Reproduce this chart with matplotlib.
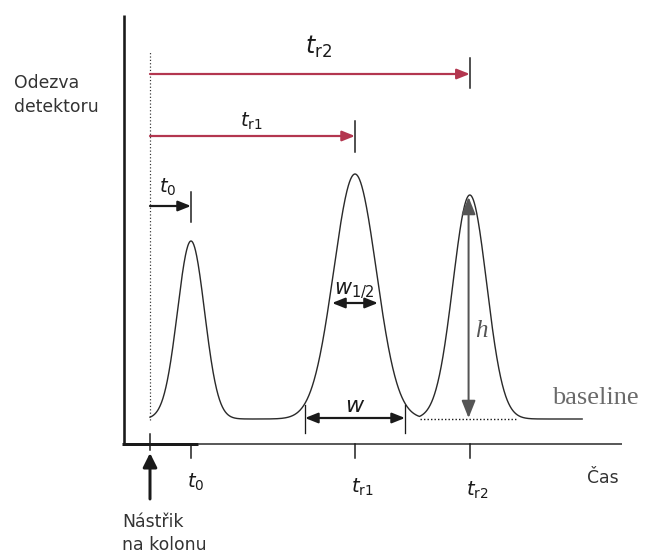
import numpy as np
import matplotlib
matplotlib.use("Agg")
import matplotlib.pyplot as plt

# ---------------- data (schematic chromatogram) ----------------
peak_names = ["t_0", "t_r1", "t_r2"]
retention_times = [1.0, 5.0, 7.8]      # min after injection (t = 0)
peak_heights = [178.0, 245.0, 224.0]   # detector response (a.u.)
peak_sigmas = [0.33, 0.52, 0.41]       # peak standard deviation (min)
w_half = 1.12                          # half-height width of peak r1 (min)
w_base = 2.44                          # base width of peak r1 (min)
t_injection = 0.0
t_end = 10.54

# ---------------- layout helpers (pixel -> data) ----------------
PX_PER_MIN = 41.0
X0, Y0 = 150.0, 419.0


def X(px):
    return (px - X0) / PX_PER_MIN


def Y(py):
    return Y0 - py


def lw(px):
    return px * 0.72


fig = plt.figure(figsize=(6.45, 5.55), dpi=100)
ax = fig.add_axes([0, 0, 1, 1])
ax.set_xlim(X(0), X(645))
ax.set_ylim(Y(555), Y(0))
ax.axis("off")

BLACK = "#1a1a1a"
RED = "#b3364f"
GRAY = "#555555"
SANS = "DejaVu Sans"

# ---------------- axes lines ----------------
ax.plot([X(124), X(124)], [Y(15), Y(445)], color=BLACK, lw=lw(2.6),
        solid_capstyle="butt")
ax.plot([X(122), X(198)], [Y(444), Y(444)], color=BLACK, lw=lw(3.0),
        solid_capstyle="butt")
ax.plot([X(198), X(622)], [Y(444), Y(444)], color="#333333", lw=lw(1.6),
        solid_capstyle="butt")

# ---------------- chromatogram trace ----------------
t = np.linspace(t_injection, t_end, 1500)
components = [h * np.exp(-(t - c) ** 2 / (2 * s ** 2))
              for c, h, s in zip(retention_times, peak_heights, peak_sigmas)]
signal = np.max(np.vstack(components), axis=0)
ax.plot(t, signal, color="#2a2a2a", lw=lw(1.4))

# dotted baseline under the last peak
ax.plot([X(420), X(517)], [0, 0], color=BLACK, lw=lw(1.4), ls=(0, (1, 1.5)))

# vertical dotted injection line
ax.plot([t_injection, t_injection], [Y(420), Y(52)], color="#333333",
        lw=lw(1.2), ls=(0, (1, 1.8)))

# ---------------- ticks on time axis ----------------
ax.plot([t_injection, t_injection], [Y(434), Y(450)], color=BLACK, lw=lw(1.5))
for rt in retention_times:
    ax.plot([rt, rt], [Y(444), Y(458)], color=BLACK, lw=lw(1.5))

# injection arrow
ax.annotate("", xy=(t_injection, Y(453)), xytext=(t_injection, Y(499)),
            arrowprops=dict(arrowstyle="-|>,head_length=0.6,head_width=0.3",
                            mutation_scale=14, lw=lw(3.0), color=BLACK,
                            shrinkA=0, shrinkB=0))

# bottom labels
bottom_tops = [472, 477, 480]
bottom_math = [r"$t_{\mathrm{0}}$", r"$t_{\mathrm{r1}}$", r"$t_{\mathrm{r2}}$"]
for rt, top, lab in zip(retention_times, bottom_tops, bottom_math):
    ax.text(rt - 4 / PX_PER_MIN, Y(top), lab, ha="left", va="top",
            fontsize=14, color=BLACK)

# ---------------- retention time arrows on top ----------------
arrow_rows = [
    (retention_times[2], 74, 58, 88, RED, r"$t_{\mathrm{r2}}$", 305, 34, 17),
    (retention_times[1], 136, 121, 152, RED, r"$t_{\mathrm{r1}}$", 240, 111, 14),
    (retention_times[0], 206, 192, 222, BLACK, r"$t_{\mathrm{0}}$", 159, 177, 14),
]
for rt, yrow, ytk0, ytk1, col, lab, lx, ly, fs in arrow_rows:
    ax.annotate("", xy=(rt, Y(yrow)), xytext=(t_injection, Y(yrow)),
                arrowprops=dict(arrowstyle="-|>,head_length=0.55,head_width=0.22",
                                mutation_scale=14, lw=lw(2.2), color=col,
                                shrinkA=0, shrinkB=0))
    ax.plot([rt, rt], [Y(ytk0), Y(ytk1)], color=BLACK, lw=lw(1.5))
    ax.text(X(lx), Y(ly), lab, ha="left", va="top", fontsize=fs, color=BLACK)

# ---------------- peak width annotations (peak r1) ----------------
c1 = retention_times[1]
h1 = peak_heights[1]
# half-height width
ax.annotate("", xy=(c1 + w_half / 2, Y(303)), xytext=(c1 - w_half / 2, Y(303)),
            arrowprops=dict(arrowstyle="<|-|>,head_length=0.55,head_width=0.22",
                            mutation_scale=14, lw=lw(2.2), color=BLACK,
                            shrinkA=0, shrinkB=0))
ax.text(X(334), Y(281), r"$w_{\mathrm{1/2}}$", ha="left", va="top",
        fontsize=15, color=BLACK)
# base width
ax.annotate("", xy=(c1 + w_base / 2, Y(418)), xytext=(c1 - w_base / 2, Y(418)),
            arrowprops=dict(arrowstyle="<|-|>,head_length=0.55,head_width=0.22",
                            mutation_scale=14, lw=lw(2.2), color=BLACK,
                            shrinkA=0, shrinkB=0))
for xe in (c1 - w_base / 2, c1 + w_base / 2):
    ax.plot([xe, xe], [Y(405), Y(433)], color=BLACK, lw=lw(1.3))
ax.text(c1, Y(396), r"$w$", ha="center", va="top", fontsize=16, color=BLACK)

# ---------------- peak height (peak r2) ----------------
c2 = retention_times[2]
h2 = peak_heights[2]
ax.annotate("", xy=(c2 - 0.03, h2 - 2), xytext=(c2 - 0.03, 1),
            arrowprops=dict(arrowstyle="<|-|>,head_length=0.75,head_width=0.3",
                            mutation_scale=14, lw=lw(2.0), color=GRAY,
                            shrinkA=0, shrinkB=0))
ax.text(X(475), Y(337), "h", ha="left", va="baseline", fontsize=18,
        family="Liberation Serif", style="italic", color=GRAY)

# ---------------- text labels ----------------
ax.text(X(552), Y(404), "baseline", ha="left", va="baseline", fontsize=19,
        family="Liberation Serif", color="#6a6a6a")
ax.text(X(14), Y(88), "Odezva", ha="left", va="baseline", fontsize=12.4,
        family=SANS, color="#333333")
ax.text(X(14), Y(112), "detektoru", ha="left", va="baseline", fontsize=12.4,
        family=SANS, color="#333333")
ax.text(X(122), Y(527), "Nástřik", ha="left", va="baseline", fontsize=12.4,
        family=SANS, color="#333333")
ax.text(X(122), Y(550), "na kolonu", ha="left", va="baseline", fontsize=12.4,
        family=SANS, color="#333333")
ax.text(X(587), Y(483), "Čas", ha="left", va="baseline", fontsize=12.4,
        family=SANS, color="#333333")

fig.savefig("out.png", dpi=100)
